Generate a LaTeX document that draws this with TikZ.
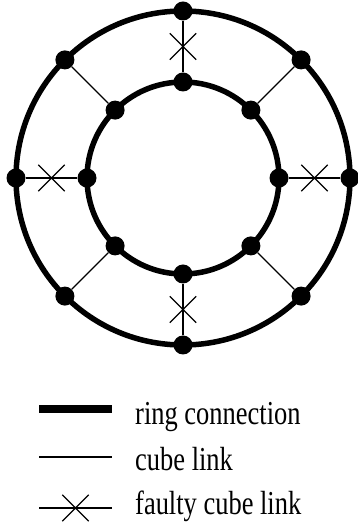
\documentclass[tikz,border=0pt]{standalone}
\usepackage{fontspec}
\setmainfont{Liberation Serif}[FakeStretch=0.79]
\usepackage{tikz}
\usetikzlibrary{shapes.misc}

\begin{document}
\begin{tikzpicture}[
  x = 1pt, y = 1pt,
  every node/.style = {font=\fontsize{33.5}{38}\selectfont},
  dot/.style   = {circle, fill=black, inner sep=0pt, minimum size=19pt},
  ring/.style  = {line width=5.5pt},
  link/.style  = {line width=1.4pt},
  fault/.style = {cross out, draw, line width=1.4pt, minimum size=25pt,
                  inner sep=0pt},
  ringkey/.style = {line width=7.5pt},
  linkkey/.style = {line width=2pt},
  keytxt/.style  = {anchor=base west, inner sep=0pt}
]
\useasboundingbox (0,0) rectangle (358,530);

% ---- the two rings ----------------------------------------------------
\coordinate (ctr) at (183,352);
\draw[ring] (ctr) circle[radius=167pt];
\draw[ring] (ctr) circle[radius=96pt];

% ---- outer ring nodes ---------------------------------------------------
\node[dot, at={(350,352)}]     (o0)   {};
\node[dot, at={(301.1,470.1)}] (o45)  {};
\node[dot, at={(183,519)}]     (o90)  {};
\node[dot, at={(64.9,470.1)}]  (o135) {};
\node[dot, at={(16,352)}]      (o180) {};
\node[dot, at={(64.9,233.9)}]  (o225) {};
\node[dot, at={(183,185)}]     (o270) {};
\node[dot, at={(301.1,233.9)}] (o315) {};

% ---- inner ring nodes ---------------------------------------------------
\node[dot, at={(279,352)}]     (i0)   {};
\node[dot, at={(250.9,419.9)}] (i45)  {};
\node[dot, at={(183,448)}]     (i90)  {};
\node[dot, at={(115.1,419.9)}] (i135) {};
\node[dot, at={(87,352)}]      (i180) {};
\node[dot, at={(115.1,284.1)}] (i225) {};
\node[dot, at={(183,256)}]     (i270) {};
\node[dot, at={(250.9,284.1)}] (i315) {};

% ---- cube links (diagonals intact, axes faulty) -------------------------
\draw[link] (o45)  -- (i45);
\draw[link] (o135) -- (i135);
\draw[link] (o225) -- (i225);
\draw[link] (o315) -- (i315);
\draw[link] (o0)   -- node[fault] {} (i0);
\draw[link] (o90)  -- node[fault] {} (i90);
\draw[link] (o180) -- node[fault] {} (i180);
\draw[link] (o270) -- node[fault] {} (i270);

% ---- key ---------------------------------------------------------------
\coordinate (k1a) at (39,121);  \coordinate (k1b) at (112,121);
\coordinate (k2a) at (39,73);   \coordinate (k2b) at (112,73);
\coordinate (k3a) at (39,22);   \coordinate (k3b) at (112,22);
\draw[ringkey] (k1a) -- (k1b);
\draw[linkkey] (k2a) -- (k2b);
\draw[linkkey] (k3a) -- node[fault] {} (k3b);
\node[keytxt, at={(135,105)}] (t1) {ring connection};
\node[keytxt, at={(135,59)}]  (t2) {cube link};
\node[keytxt, at={(135,15)}]  (t3) {faulty cube link};

\end{tikzpicture}
\end{document}
